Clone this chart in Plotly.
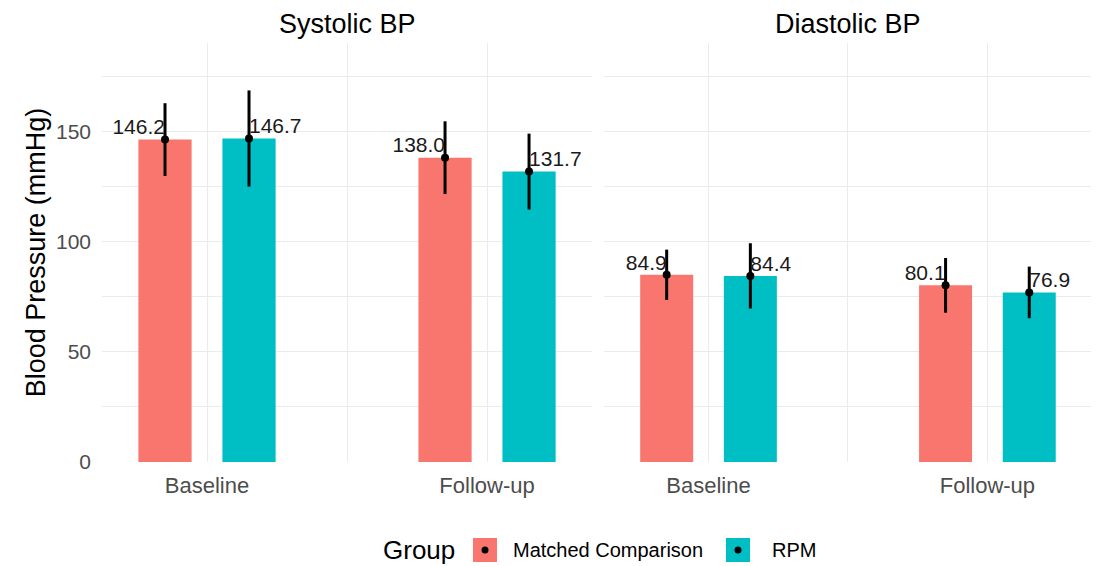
import plotly.graph_objects as go

panels = ["Systolic BP", "Diastolic BP"]
timepoints = ["Baseline", "Follow-up"]
groups = ["Matched Comparison", "RPM"]
colors = {"Matched Comparison": "#F8766D", "RPM": "#00BFC4"}

# means[panel][group] over timepoints
means = {
    "Systolic BP": {"Matched Comparison": [146.2, 138.0], "RPM": [146.7, 131.7]},
    "Diastolic BP": {"Matched Comparison": [84.9, 80.1], "RPM": [84.4, 76.9]},
}
sds = {
    "Systolic BP": {"Matched Comparison": [16.5, 16.5], "RPM": [21.8, 17.2]},
    "Diastolic BP": {"Matched Comparison": [11.4, 12.4], "RPM": [14.8, 11.7]},
}
y_ticks = [0, 50, 100, 150]

FONT = "Liberation Sans, Arial, sans-serif"
dodge = {"Matched Comparison": -0.15, "RPM": 0.15}
textpos = {"Matched Comparison": "top left", "RPM": "top right"}
bar_w = 0.19

fig = go.Figure()
for pi, panel in enumerate(panels):
    xa = "x" if pi == 0 else "x2"
    ya = "y" if pi == 0 else "y2"
    for g in groups:
        xs = [i + 1 + dodge[g] for i in range(len(timepoints))]
        fig.add_trace(go.Bar(
            x=xs, y=means[panel][g], width=bar_w,
            marker=dict(color=colors[g], line=dict(width=0)),
            xaxis=xa, yaxis=ya, showlegend=False, hoverinfo="skip",
        ))
    for g in groups:
        xs = [i + 1 + dodge[g] for i in range(len(timepoints))]
        fig.add_trace(go.Scatter(
            x=xs, y=means[panel][g], mode="markers",
            marker=dict(color="black", size=8),
            error_y=dict(type="data", array=sds[panel][g], color="black",
                         thickness=3, width=0),
            xaxis=xa, yaxis=ya, showlegend=False, cliponaxis=False,
        ))
        fig.add_trace(go.Scatter(
            x=xs, y=means[panel][g], mode="text",
            text=[f"{v:.1f}" for v in means[panel][g]],
            textposition=textpos[g],
            textfont=dict(family=FONT, size=21, color="#1a1a1a"),
            xaxis=xa, yaxis=ya, showlegend=False, cliponaxis=False,
            hoverinfo="skip",
        ))

xcommon = dict(
    range=[0.625, 2.375], tickvals=[1, 2], ticktext=timepoints,
    showgrid=True, gridcolor="#EBEBEB", gridwidth=1.3,
    minor=dict(tickvals=[1.5], showgrid=True, gridcolor="#EBEBEB", gridwidth=0.7),
    zeroline=False, showline=False, ticks="", ticklabelstandoff=8,
    tickfont=dict(family=FONT, size=22, color="#4D4D4D"),
)
ycommon = dict(
    range=[0, 190], tickvals=y_ticks,
    showgrid=True, gridcolor="#EBEBEB", gridwidth=1.3,
    minor=dict(tickvals=[25, 75, 125, 175], showgrid=True, gridcolor="#EBEBEB", gridwidth=0.7),
    zeroline=False, showline=False, ticks="",
)

# page has an 8px body margin; size figure to fit the 1099x566 window
fig.update_layout(
    width=1091, height=558,
    paper_bgcolor="white", plot_bgcolor="white",
    margin=dict(l=94, r=7, t=35, b=104),
    barmode="overlay",
    xaxis=dict(domain=[0, 0.495], anchor="y", **xcommon),
    xaxis2=dict(domain=[0.507, 1], anchor="y2", **xcommon),
    yaxis=dict(anchor="x", tickfont=dict(family=FONT, size=21, color="#4D4D4D"),
               ticklabelstandoff=10,
               title=dict(text="Blood Pressure (mmHg)", standoff=2,
                          font=dict(family=FONT, size=27, color="black")),
               **ycommon),
    yaxis2=dict(anchor="x2", matches="y", showticklabels=False, **ycommon),
    font=dict(family=FONT),
)

# facet strip titles
for pi, panel in enumerate(panels):
    fig.add_annotation(
        text=panel, xref="x domain" if pi == 0 else "x2 domain", yref="paper",
        x=0.5, y=1, yanchor="bottom", yshift=2, showarrow=False,
        font=dict(family=FONT, size=27, color="black"),
    )

# legend (drawn manually to show the pointrange key); coords in page pixels
leg_y = 550
def px2paper_x(px):
    return (px - 102) / 990
def px2paper_y(py):
    return (462 - py) / 419

fig.add_annotation(text="Group", xref="paper", yref="paper",
                   x=px2paper_x(381), y=px2paper_y(leg_y), xanchor="left", yanchor="middle",
                   showarrow=False, font=dict(family=FONT, size=26, color="black"))
key_x = {"Matched Comparison": 485, "RPM": 738}
label_x = {"Matched Comparison": 511, "RPM": 770}
for g in groups:
    cx = key_x[g]
    fig.add_shape(type="rect", xref="paper", yref="paper",
                  x0=px2paper_x(cx - 12), x1=px2paper_x(cx + 12),
                  y0=px2paper_y(leg_y + 12), y1=px2paper_y(leg_y - 12),
                  fillcolor=colors[g], line=dict(width=0))
    fig.add_shape(type="circle", xref="paper", yref="paper",
                  x0=px2paper_x(cx - 3.5), x1=px2paper_x(cx + 3.5),
                  y0=px2paper_y(leg_y + 3.5), y1=px2paper_y(leg_y - 3.5),
                  fillcolor="black", line=dict(width=0))
    fig.add_annotation(text=g, xref="paper", yref="paper",
                       x=px2paper_x(label_x[g]), y=px2paper_y(leg_y),
                       xanchor="left", yanchor="middle", showarrow=False,
                       font=dict(family=FONT, size=20, color="black"))

fig.write_html("out.html")
